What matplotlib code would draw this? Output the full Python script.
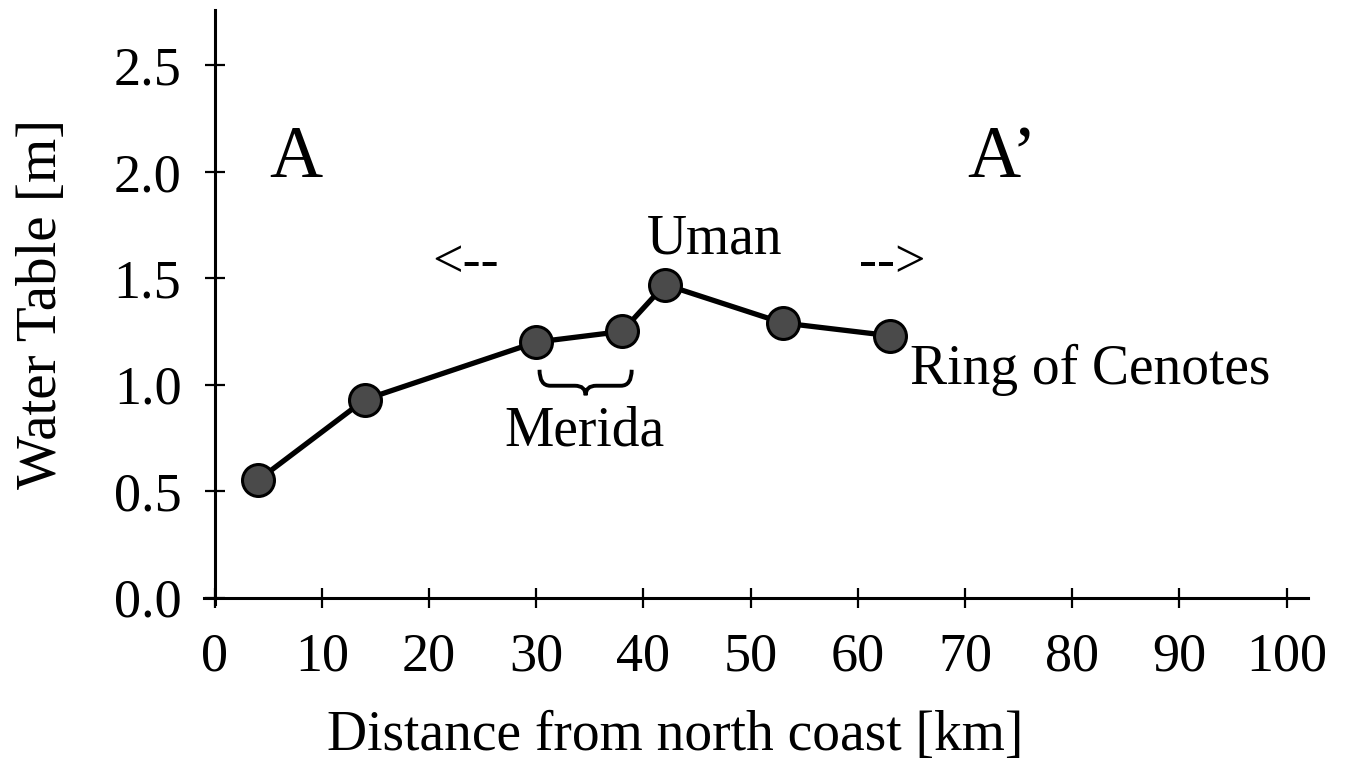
import numpy as np
import matplotlib
matplotlib.use("Agg")
import matplotlib.pyplot as plt
from matplotlib.path import Path
from matplotlib.patches import PathPatch

# water table along the A-A' transect
distance_km = [4, 14, 30, 38, 42, 53, 63]
water_table_m = [0.55, 0.93, 1.20, 1.25, 1.47, 1.29, 1.23]

x_ticks = [0, 10, 20, 30, 40, 50, 60, 70, 80, 90, 100]
y_ticks = [0.0, 0.5, 1.0, 1.5, 2.0, 2.5]
y_tick_labels = ["0.0", "0.5", "1.0", "1.5", "2.0", "2.5"]

plt.rcParams["font.family"] = ["Liberation Serif", "DejaVu Serif"]


def curly_brace(ax, x0, x1, y_top, y_mid, y_tip, d=1.0, lw=2.8):
    # horizontal brace opening upwards, tip pointing down
    xm = (x0 + x1) / 2
    verts = [(x0, y_top), (x0, y_mid), (x0 + d, y_mid),
             (xm - d, y_mid),
             (xm, y_mid), (xm, y_tip),
             (xm, y_mid), (xm + d, y_mid),
             (x1 - d, y_mid),
             (x1, y_mid), (x1, y_top)]
    codes = [Path.MOVETO, Path.CURVE3, Path.CURVE3,
             Path.LINETO,
             Path.CURVE3, Path.CURVE3,
             Path.CURVE3, Path.CURVE3,
             Path.LINETO,
             Path.CURVE3, Path.CURVE3]
    ax.add_patch(PathPatch(Path(verts, codes), fill=False, lw=lw, color="black"))


fig = plt.figure(figsize=(13.47, 7.65), dpi=100)
ax = fig.add_axes([0.1515, 0.2105, 0.8195, 0.7765])

ax.plot(distance_km, water_table_m, color="black", lw=3.8, marker="o",
        markersize=23, markerfacecolor="#4a4a4a", markeredgecolor="black",
        markeredgewidth=2.2, zorder=3)

ax.set_xlim(-1, 102)
ax.set_ylim(-0.03, 2.76)
ax.spines["left"].set_position(("data", 0))
ax.spines["bottom"].set_position(("data", 0))
ax.spines["right"].set_visible(False)
ax.spines["top"].set_visible(False)
for s in ("left", "bottom"):
    ax.spines[s].set_linewidth(2.2)

ax.set_xticks(x_ticks)
ax.set_yticks(y_ticks)
ax.set_yticklabels(y_tick_labels)
ax.tick_params(direction="inout", length=14, width=1.6, labelsize=39, pad=18)
ax.tick_params(axis="y", pad=17)

fig.text(0.501, 0.038, "Distance from north coast [km]", fontsize=40,
         ha="center", va="center")
fig.text(0.031, 0.603, "Water Table [m]", fontsize=41, rotation=90,
         ha="center", va="center")

ax.text(7.6, 2.06, "A", fontsize=53, ha="center", va="center")
ax.text(73.5, 2.06, "A\u2019", fontsize=53, ha="center", va="center")
ax.text(23.4, 1.57, "<--", fontsize=39, ha="center", va="center")
ax.text(63.2, 1.57, "-->", fontsize=39, ha="center", va="center")
ax.text(46.6, 1.68, "Uman", fontsize=40, ha="center", va="center")
ax.text(34.5, 0.78, "Merida", fontsize=40, ha="center", va="center")
ax.text(64.9, 1.07, "Ring of Cenotes", fontsize=40, ha="left", va="center")

curly_brace(ax, 30.3, 38.9, 1.07, 0.995, 0.95)

fig.savefig("out.png", dpi=100)
